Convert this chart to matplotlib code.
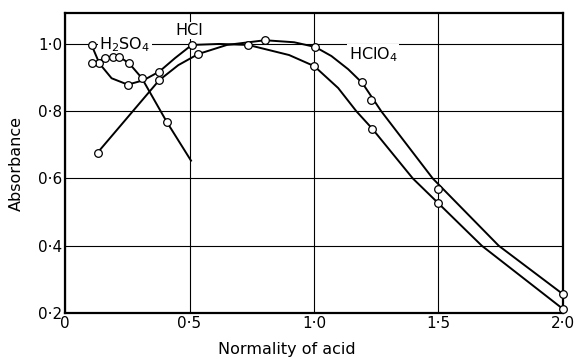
import matplotlib
matplotlib.use("Agg")
import matplotlib.pyplot as plt

# measured points (circles)
hcl_x = [0.107, 0.138, 0.252, 0.379, 0.509, 0.736, 1.001, 1.234, 1.497, 2.0]
hcl_y = [0.996, 0.942, 0.879, 0.918, 0.997, 0.997, 0.934, 0.748, 0.528, 0.212]

hclo4_x = [0.131, 0.378, 0.535, 0.803, 1.005, 1.194, 1.230, 1.50, 2.0]
hclo4_y = [0.677, 0.892, 0.97, 1.011, 0.991, 0.886, 0.834, 0.570, 0.256]

h2so4_x = [0.107, 0.16, 0.194, 0.218, 0.258, 0.308, 0.408]
h2so4_y = [0.942, 0.957, 0.962, 0.962, 0.942, 0.899, 0.769]

# drawn curves
hcl_cx = [0.107, 0.138, 0.187, 0.252, 0.315, 0.379, 0.442, 0.509, 0.62, 0.736,
          0.90, 1.001, 1.097, 1.17, 1.234, 1.397, 1.497, 1.674, 2.0]
hcl_cy = [0.996, 0.942, 0.898, 0.879, 0.892, 0.918, 0.958, 0.997, 1.0, 0.997,
          0.967, 0.934, 0.869, 0.8, 0.748, 0.6, 0.528, 0.4, 0.212]

hclo4_cx = [0.131, 0.378, 0.455, 0.535, 0.65, 0.803, 0.92, 1.005, 1.07, 1.137,
            1.194, 1.27, 1.477, 1.742, 2.0]
hclo4_cy = [0.677, 0.892, 0.937, 0.97, 0.997, 1.011, 1.005, 0.991, 0.964, 0.925,
            0.884, 0.8, 0.6, 0.4, 0.256]

h2so4_cx = h2so4_x + [0.506]
h2so4_cy = h2so4_y + [0.653]

xticks = [0, 0.5, 1.0, 1.5, 2.0]
xlabels = ["0", "0·5", "1·0", "1·5", "2·0"]
yticks = [0.2, 0.4, 0.6, 0.8, 1.0]
ylabels = ["0·2", "0·4", "0·6", "0·8", "1·0"]

fig = plt.figure(figsize=(5.77, 3.57), dpi=100)
ax = fig.add_axes([0.1127, 0.1232, 0.863, 0.8404])

for cx, cy in [(hcl_cx, hcl_cy), (hclo4_cx, hclo4_cy), (h2so4_cx, h2so4_cy)]:
    ax.plot(cx, cy, color="black", lw=1.4, zorder=3)
for mx, my in [(hcl_x, hcl_y), (hclo4_x, hclo4_y), (h2so4_x, h2so4_y)]:
    ax.plot(mx, my, ls="none", marker="o", ms=5.5, mfc="white", mec="black",
            mew=0.9, zorder=4, clip_on=False)

ax.set_xlim(0, 2.0)
ax.set_ylim(0.2, 1.092)
ax.set_xticks(xticks)
ax.set_xticklabels(xlabels)
ax.set_yticks(yticks)
ax.set_yticklabels(ylabels)
ax.tick_params(length=0, labelsize=11, pad=2)
ax.grid(True, color="black", lw=0.8)
ax.set_axisbelow(True)
for s in ax.spines.values():
    s.set_linewidth(1.6)

box = dict(facecolor="white", edgecolor="none", pad=1)
ax.text(0.241, 0.997, "H$_2$SO$_4$", fontsize=11.5, ha="center", va="center", bbox=box, zorder=2)
ax.text(0.498, 1.04, "HCl", fontsize=11.5, ha="center", va="center", bbox=box, zorder=2)
ax.text(1.237, 0.967, "HClO$_4$", fontsize=11.5, ha="center", va="center", bbox=box, zorder=2)

ax.set_xlabel("Normality of acid", fontsize=11.5)
ax.xaxis.set_label_coords(0.446, -0.095)
ax.set_ylabel("Absorbance", fontsize=11.5)
ax.yaxis.set_label_coords(-0.083, 0.5)

fig.savefig("out.png", dpi=100)
